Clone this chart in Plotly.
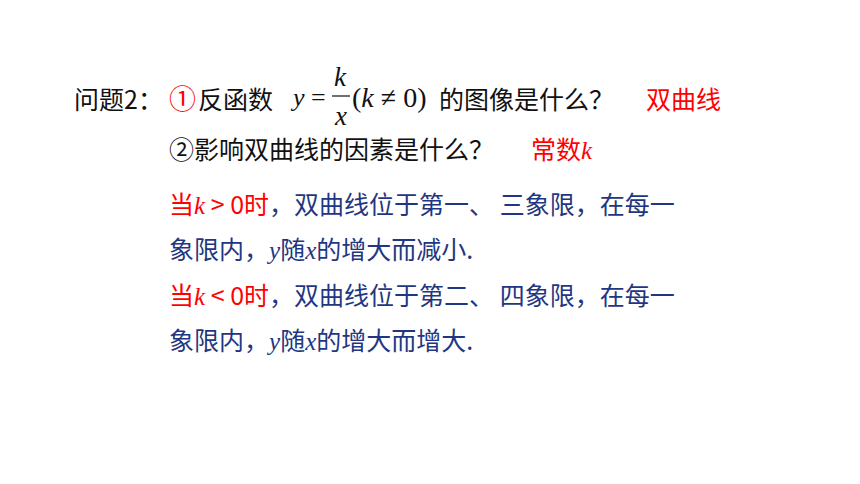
import plotly.graph_objects as go

W, H = 860, 484
OFF = 8          # page body margin of the browser
PAD = 2          # annotation inner padding
CJK = "Noto Sans CJK SC"
SERIF = "Liberation Serif"
BLACK = "#111111"
RED = "#FF0000"
BLUE = "#1F3782"

# text content
title_label = "问题2："
q1_mark = "①"
q1_text = "反函数"
q1_tail = "的图像是什么？"
q1_answer = "双曲线"
q2_text = "②影响双曲线的因素是什么？"
q2_answer = "常数"
cond_pos = "当<K> &gt; 0时"
cond_neg = "当<K> &lt; 0时"
rule_pos_1 = "，双曲线位于第一、 三象限，在每一"
rule_neg_1 = "，双曲线位于第二、 四象限，在每一"
rule_pos_2 = "象限内，<Y>随<X>的增大而减小."
rule_neg_2 = "象限内，<Y>随<X>的增大而增大."

FW, FH = W - OFF * 2, H - OFF * 2


def it(ch):
    return f"<span style='font-family:{SERIF};font-style:italic'>{ch}</span>"


def fmt(s):
    return s.replace("<K>", it("k")).replace("<Y>", it("y")).replace("<X>", it("x"))


def px(x):
    return (x - OFF) / FW


def py(y):
    return 1 - (y - OFF) / FH


ann = []


def add(text, x, y, color, family=CJK, size=25, anchor="left"):
    xx = x - PAD if anchor == "left" else x
    ann.append(dict(text=text, x=px(xx), y=py(y), xref="paper", yref="paper",
                    xanchor=anchor, yanchor="middle", showarrow=False,
                    font=dict(family=family, size=size, color=color)))


# line 1
add(title_label, 74, 98, BLACK)
add(q1_mark, 169, 98, RED, size=27)
add(q1_text, 198, 98, BLACK)
add("<i>y</i> =", 290, 98, BLACK, family=SERIF, size=26)
add("<i>k</i>", 340, 77, BLACK, family=SERIF, size=27, anchor="center")
add("<i>x</i>", 340, 116, BLACK, family=SERIF, size=27, anchor="center")
add("(<i>k</i> ≠ 0)", 352, 98, BLACK, family=SERIF, size=28)
add(q1_tail, 439, 98, BLACK)
add(q1_answer, 646, 98, RED)

# line 2
add(q2_text, 169, 148, BLACK)
add(q2_answer + it("k"), 531, 148, RED)

# lines 3-6
line_y = [203, 248, 294, 339]
add(f"<span style='color:{RED}'>{fmt(cond_pos)}</span>" + fmt(rule_pos_1), 169, line_y[0], BLUE)
add(fmt(rule_pos_2), 169, line_y[1], BLUE)
add(f"<span style='color:{RED}'>{fmt(cond_neg)}</span>" + fmt(rule_neg_1), 169, line_y[2], BLUE)
add(fmt(rule_neg_2), 169, line_y[3], BLUE)

fig = go.Figure()
fig.update_layout(
    width=FW, height=FH,
    margin=dict(l=0, r=0, t=0, b=0),
    paper_bgcolor="white", plot_bgcolor="white",
    xaxis=dict(visible=False),
    yaxis=dict(visible=False),
    annotations=ann,
    shapes=[dict(type="line", xref="paper", yref="paper",
                 x0=px(332), x1=px(350), y0=py(96), y1=py(96),
                 line=dict(color=BLACK, width=1.2))],
    showlegend=False,
)
fig.write_html("out.html")
